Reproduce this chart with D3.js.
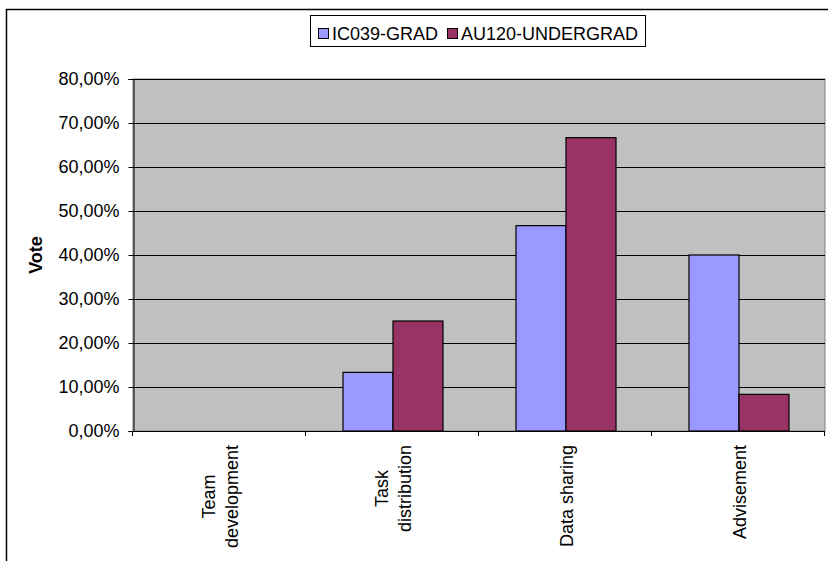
<!DOCTYPE html>
<html>
<head>
<meta charset="utf-8">
<script src="https://cdn.jsdelivr.net/npm/d3@7"></script>
<style>
  html, body { margin: 0; padding: 0; background: #fff; }
  svg { display: block; font-family: Arial, "Liberation Sans", sans-serif; }
</style>
</head>
<body>
<svg id="chart" width="828" height="561"></svg>
<script>
// Survey categories (each inner array is one label, split over lines)
const categories = ["Team development", "Task distribution", "Data sharing", "Advisement"];
const categoryLines = [["Team", "development"], ["Task", "distribution"], ["Data sharing"], ["Advisement"]];

// Series names and share of votes per category
const seriesNames = ["IC039-GRAD", "AU120-UNDERGRAD"];
const gradVotes = [0, 0.1333, 0.4667, 0.40];
const undergradVotes = [0, 0.25, 0.6667, 0.0833];

// Value-axis ticks
const yTicks = [0, 0.1, 0.2, 0.3, 0.4, 0.5, 0.6, 0.7, 0.8];

const colors = ["#9999FF", "#993366"];
const seriesValues = [gradVotes, undergradVotes];
const FONT = 18;

const svg = d3.select("#chart");
const W = 828, H = 561;
const plot = { left: 133, right: 825, top: 79, bottom: 431 };

const locale = d3.formatLocale({ decimal: ",", thousands: ".", grouping: [3], currency: ["", "€"] });
const pct = locale.format(".2%");

// Outer chart frame (runs past the bottom/right edge of the canvas)
svg.append("rect")
  .attr("x", 6.5).attr("y", 9.5)
  .attr("width", W + 20).attr("height", H + 20)
  .attr("fill", "#fff").attr("stroke", "#000").attr("stroke-width", 1.5);

const x0 = d3.scaleBand().domain(categories).range([plot.left, plot.right]).padding(0);
const groupGap = 73;
const x1 = d3.scaleBand().domain(seriesNames)
  .range([groupGap / 2, x0.bandwidth() - groupGap / 2]).padding(0);
const y = d3.scaleLinear().domain([0, 0.8]).range([plot.bottom, plot.top]);

// Plot area
svg.append("rect")
  .attr("x", plot.left).attr("y", plot.top)
  .attr("width", plot.right - plot.left).attr("height", plot.bottom - plot.top)
  .attr("fill", "#C0C0C0").attr("stroke", "#808080").attr("stroke-width", 1);

// Horizontal gridlines
svg.append("g").selectAll("line").data(yTicks.filter(d => d > 0)).join("line")
  .attr("x1", plot.left).attr("x2", plot.right)
  .attr("y1", d => Math.round(y(d)) + 0.5).attr("y2", d => Math.round(y(d)) + 0.5)
  .attr("stroke", "#000").attr("stroke-width", 1);

// Bars
const rows = categories.map((c, i) => ({ c, vals: seriesNames.map((s, k) => ({ s, k, v: seriesValues[k][i] })) }));
svg.append("g").selectAll("g").data(rows).join("g")
  .attr("transform", d => `translate(${x0(d.c)},0)`)
  .selectAll("rect").data(d => d.vals.filter(e => e.v > 0)).join("rect")
  .attr("x", d => x1(d.s) + 0.5)
  .attr("y", d => y(d.v))
  .attr("width", x1.bandwidth())
  .attr("height", d => y(0) - y(d.v))
  .attr("fill", d => colors[d.k])
  .attr("stroke", "#000").attr("stroke-width", 1.2);

// Value axis
const yAxis = d3.axisLeft(y).tickValues(yTicks).tickFormat(pct).tickSize(5).tickPadding(9);
const gy = svg.append("g").attr("transform", `translate(${plot.left + 0.5},0)`).call(yAxis);
gy.select(".domain").attr("stroke", "#000");
gy.selectAll(".tick line").attr("stroke", "#000");
gy.selectAll(".tick text").attr("font-size", FONT).attr("fill", "#000")
  .attr("font-family", "Arial, 'Liberation Sans', sans-serif");

// Category axis line and between-category ticks
svg.append("line")
  .attr("x1", plot.left).attr("x2", plot.right)
  .attr("y1", plot.bottom + 0.5).attr("y2", plot.bottom + 0.5)
  .attr("stroke", "#000");
const tickXs = categories.map(c => x0(c)).concat([x0.range()[1]]);
svg.append("g").selectAll("line").data(tickXs).join("line")
  .attr("x1", d => Math.round(d) - 0.5).attr("x2", d => Math.round(d) - 0.5)
  .attr("y1", plot.bottom).attr("y2", plot.bottom + 5)
  .attr("stroke", "#000");

// Rotated category labels, lines centred on each other, block starting under the axis
const labelTop = 445, lineH = 23;
categories.forEach((c, i) => {
  const lines = categoryLines[i];
  const cx = x0(c) + x0.bandwidth() / 2 + 1;
  const g = svg.append("g");
  const texts = lines.map(ln => g.append("text")
    .attr("font-size", FONT).attr("fill", "#000")
    .attr("text-anchor", "middle")
    .attr("dy", "0.35em")
    .text(ln));
  const maxLen = d3.max(texts, t => t.node().getComputedTextLength());
  const cy = labelTop + maxLen / 2;
  texts.forEach((t, j) => {
    const off = (j - (lines.length - 1) / 2) * lineH;
    t.attr("transform", `translate(${cx + off},${cy}) rotate(-90)`);
  });
});

// Value axis title
svg.append("text")
  .attr("transform", `translate(36,${(plot.top + plot.bottom) / 2}) rotate(-90)`)
  .attr("text-anchor", "middle").attr("dy", "0.35em")
  .attr("font-size", FONT).attr("font-weight", "bold")
  .text("Vote");

// Legend
const lg = svg.append("g");
lg.append("rect").attr("x", 310.5).attr("y", 15.5).attr("width", 335).attr("height", 31)
  .attr("fill", "#fff").attr("stroke", "#000").attr("stroke-width", 1);
const legendItems = [{ sx: 318, tx: 332 }, { sx: 447, tx: 461 }];
seriesNames.forEach((s, k) => {
  lg.append("rect").attr("x", legendItems[k].sx + 0.5).attr("y", 28.5)
    .attr("width", 10).attr("height", 10)
    .attr("fill", colors[k]).attr("stroke", "#000").attr("stroke-width", 1);
  lg.append("text").attr("x", legendItems[k].tx).attr("y", 40)
    .attr("font-size", FONT).text(s);
});
</script>
</body>
</html>
